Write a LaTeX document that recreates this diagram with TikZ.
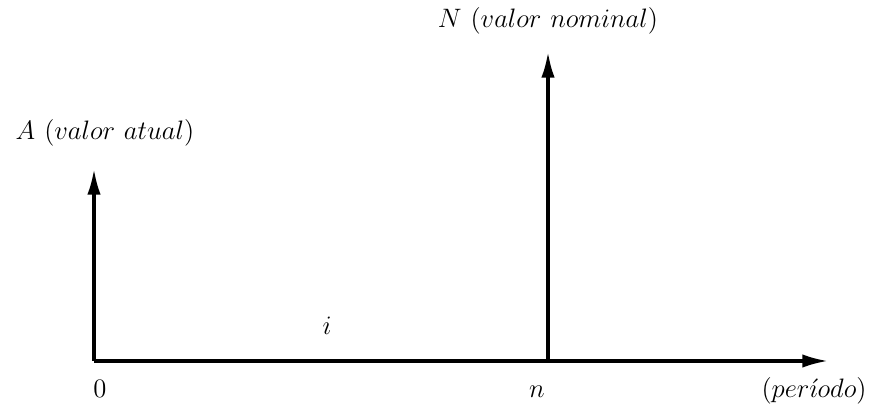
\documentclass[tikz,border=0pt]{standalone}
\usetikzlibrary{arrows.meta}
\begin{document}
\begin{tikzpicture}[x=0.45pt,y=-0.45pt,
  axisline/.style={line width=1.4pt,-{Latex[length=11.5pt,width=6pt]}},
  lbl/.style={anchor=base,inner sep=0pt,font=\fontsize{12.35}{15}\selectfont}]
\useasboundingbox (0,0) rectangle (872,408);
\coordinate (O) at (94,361);
\coordinate (Tend) at (828,361);
\coordinate (Atip) at (94,169);
\coordinate (Nbase) at (548,361);
\coordinate (Ntip) at (548,52);
\draw[axisline] (O) -- (Tend);
\draw[line width=1.4pt] (O) -- (Nbase);
\draw[axisline] (O) -- (Atip);
\draw[axisline] (Nbase) -- (Ntip);
\node[lbl] (Alab) at (105,140) {$A\ (valor\ atual)$};
\node[lbl] (Nlab) at (548,28) {$N\ (valor\ nominal)$};
\node[lbl] (zero) at (100,397) {$0$};
\node[lbl] (nlab) at (537,397) {$n$};
\node[lbl] (ilab) at (327,335) {$i$};
\node[lbl] (per) at (814,397) {$(per\acute{\imath}odo)$};
\end{tikzpicture}
\end{document}
